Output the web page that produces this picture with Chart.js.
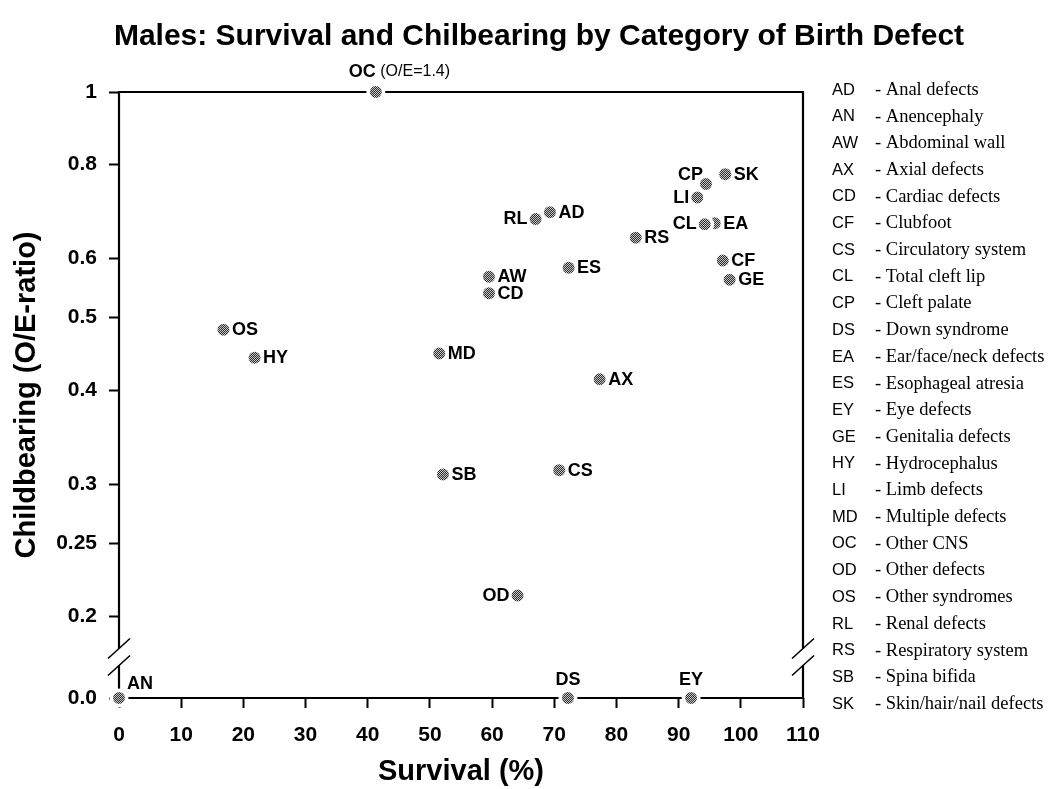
<!DOCTYPE html>
<html>
<head>
<meta charset="utf-8">
<script src="https://cdn.jsdelivr.net/npm/chart.js@4.4.1/dist/chart.umd.min.js"></script>
<style>
  html, body { margin: 0; padding: 0; background: #fff; }
</style>
</head>
<body>
<canvas id="defects-chart" width="1058" height="789"></canvas>
<script>
 /*-------------------
 Data
 -------------------*/
 const codes = ['AD', 'AN', 'AW', 'AX', 'CD', 'CF', 'CS', 'CL', 'CP', 'DS', 'EA', 'ES',
   'EY', 'GE', 'HY', 'LI', 'MD', 'OC', 'OD', 'OS', 'RL', 'RS', 'SB', 'SK'];
 const names = ['Anal defects', 'Anencephaly', 'Abdominal wall', 'Axial defects', 'Cardiac defects',
   'Clubfoot', 'Circulatory system', 'Total cleft lip', 'Cleft palate', 'Down syndrome',
   'Ear/face/neck defects', 'Esophageal atresia', 'Eye defects', 'Genitalia defects',
   'Hydrocephalus', 'Limb defects', 'Multiple defects', 'Other CNS', 'Other defects',
   'Other syndromes', 'Renal defects', 'Respiratory system', 'Spina bifida', 'Skin/hair/nail defects'];
 // Survival (%)
 const survival = [69.3, 0, 59.5, 77.3, 59.5, 97.1, 70.8, 94.2, 94.4, 72.2, 95.8, 72.3,
   92.0, 98.2, 21.8, 93.0, 51.5, 41.3, 64.1, 16.8, 67.0, 83.1, 52.1, 97.5];
 // Childbearing, O/E ratio
 const oeRatio = [0.691, 0, 0.567, 0.414, 0.539, 0.596, 0.313, 0.666, 0.754, 0, 0.668, 0.583,
   0, 0.562, 0.442, 0.723, 0.448, 1.4, 0.213, 0.482, 0.677, 0.639, 0.309, 0.777];

 const xTicks = [0, 10, 20, 30, 40, 50, 60, 70, 80, 90, 100, 110];
 const yTicks = [1, 0.8, 0.6, 0.5, 0.4, 0.3, 0.25, 0.2, 0];
 const yTickLabels = ['1', '0.8', '0.6', '0.5', '0.4', '0.3', '0.25', '0.2', '0.0'];

 // where each label sits next to its dot
 const labelSide = ['right', 'aboveright', 'right', 'right', 'right', 'right', 'right', 'left',
   'aboveleft', 'above', 'right', 'right', 'above', 'right', 'right', 'left', 'right', 'top',
   'left', 'right', 'left', 'right', 'right', 'right'];

 // log axis runs 0.2..1, zero sits below the axis break
 const Y_MAX = 1;
 const ZERO_POS = 0.1555;
 const plotY = v => v === 0 ? ZERO_POS : Math.min(v, Y_MAX);

 const SANS = '"Liberation Sans", Arial, Helvetica, sans-serif';
 const SERIF = '"Liberation Serif", "Times New Roman", serif';

 // --------- Dot fill -----------
 function dotPattern() {
   const c = document.createElement('canvas');
   c.width = 2; c.height = 2;
   const g = c.getContext('2d');
   g.fillStyle = '#303030';
   g.fillRect(0, 0, 2, 2);
   g.fillStyle = '#c4c4c4';
   g.fillRect(0, 0, 1, 1);
   g.fillRect(1, 1, 1, 1);
   return g.createPattern(c, 'repeat');
 }

 // later entries are drawn on top, so go backwards (CL covers EA like the print)
 const drawOrder = codes.map((c, i) => i).reverse();

 /*-------------------
 Plugins
 -------------------*/
 const framePlugin = {
   id: 'frame',
   beforeDatasetsDraw(chart) {
     const { ctx, chartArea: { left, right, top, bottom } } = chart;
     const y = chart.scales.y;
     const brk = (y.getPixelForValue(0.2) + y.getPixelForValue(ZERO_POS)) / 2;
     const gap = 8.5;
     ctx.save();
     ctx.strokeStyle = '#000';
     ctx.lineWidth = 2.2;
     ctx.beginPath();
     ctx.moveTo(left - 1, top); ctx.lineTo(right + 1, top);
     ctx.moveTo(left - 1, bottom); ctx.lineTo(right + 1, bottom);
     [left, right].forEach(x => {
       ctx.moveTo(x, top); ctx.lineTo(x, brk - gap);
       ctx.moveTo(x, brk + gap); ctx.lineTo(x, bottom);
     });
     ctx.stroke();
     // break marks
     ctx.lineWidth = 1.6;
     ctx.beginPath();
     [left, right].forEach(x => {
       [-gap, gap].forEach(d => {
         ctx.moveTo(x - 11, brk + d + 10);
         ctx.lineTo(x + 11, brk + d - 10);
       });
     });
     ctx.stroke();
     ctx.restore();
   }
 };

 const labelPlugin = {
   id: 'dotLabels',
   afterDatasetsDraw(chart) {
     const ctx = chart.ctx;
     const pts = chart.getDatasetMeta(0).data;
     ctx.save();
     ctx.fillStyle = '#000';
     ctx.textBaseline = 'middle';
     const bold = 'bold 18px ' + SANS;
     pts.forEach((p, j) => {
       const i = drawOrder[j];
       const txt = codes[i];
       ctx.font = bold;
       switch (labelSide[i]) {
         case 'left':
           ctx.textAlign = 'right';
           ctx.fillText(txt, p.x - 8, p.y);
           break;
         case 'above':
           ctx.textAlign = 'center';
           ctx.fillText(txt, p.x, p.y - 18);
           break;
         case 'aboveleft':
           ctx.textAlign = 'right';
           ctx.fillText(txt, p.x - 3, p.y - 9);
           break;
         case 'aboveright':
           ctx.textAlign = 'left';
           ctx.fillText(txt, p.x + 8, p.y - 14);
           break;
         case 'top': {
           ctx.textAlign = 'left';
           const x0 = p.x - 27;
           ctx.fillText(txt, x0, p.y - 20);
           const w = ctx.measureText(txt).width;
           ctx.font = '16px ' + SANS;
           ctx.fillText(' (O/E=' + oeRatio[i] + ')', x0 + w, p.y - 20);
           break;
         }
         default:
           ctx.textAlign = 'left';
           ctx.fillText(txt, p.x + 8.5, p.y + 0.5);
       }
     });
     ctx.restore();
   }
 };

 const sidePlugin = {
   id: 'sideText',
   afterDraw(chart) {
     const ctx = chart.ctx;
     ctx.save();
     ctx.fillStyle = '#000';
     ctx.textBaseline = 'middle';
     ctx.textAlign = 'center';
     ctx.font = 'bold 30px ' + SANS;
     ctx.fillText('Males: Survival and Chilbearing by Category of Birth Defect', 539, 37);
     // key of abbreviations
     ctx.textAlign = 'left';
     codes.forEach((c, i) => {
       const y = 90 + i * 26.7;
       ctx.font = '16.5px ' + SANS;
       ctx.fillText(c, 832, y);
       ctx.font = '18.5px ' + SERIF;
       ctx.fillText('- ' + names[i], 875, y);
     });
     ctx.restore();
   }
 };

 /*-------------------
 Scatter Chart
 -------------------*/
 const defectsCanvas = document.getElementById('defects-chart');

 const defectsData = {
   datasets: [{
     label: 'Birth defects',
     data: drawOrder.map(i => ({ x: survival[i], y: plotY(oeRatio[i]) })),
     clip: false,
     pointRadius: 7.75,
     pointHoverRadius: 7.75,
     pointBackgroundColor: dotPattern(),
     pointBorderColor: '#fff',
     pointBorderWidth: 3.5,
     showLine: false
   }]
 };

 const tickFont = { family: SANS, size: 21, weight: 'bold' };
 const titleFont = { family: SANS, size: 29, weight: 'bold' };

 const defectsOptions = {
   responsive: false,
   animation: false,
   layout: { padding: { top: 92, right: 255, left: 0, bottom: 0 } },
   scales: {
     x: {
       type: 'linear',
       min: 0,
       max: 110,
       afterFit: scale => { scale.height = 91; },
       afterBuildTicks: scale => { scale.ticks = xTicks.map(v => ({ value: v })); },
       border: { display: false },
       grid: { drawOnChartArea: false, drawTicks: true, tickLength: 10, tickWidth: 2, tickColor: '#000' },
       ticks: { color: '#000', font: tickFont, padding: 15, maxRotation: 0 },
       title: { display: true, text: 'Survival (%)', color: '#000', font: titleFont, padding: { top: 0, bottom: 0 } }
     },
     y: {
       type: 'logarithmic',
       min: ZERO_POS,
       max: Y_MAX,
       afterFit: scale => { scale.width = 119; },
       afterBuildTicks: scale => { scale.ticks = yTicks.map(v => ({ value: plotY(v) })); },
       border: { display: false },
       grid: { drawOnChartArea: false, drawTicks: true, tickLength: 10, tickWidth: 2, tickColor: '#000' },
       ticks: {
         color: '#000',
         font: tickFont,
         padding: 12,
         callback: (value, index) => yTickLabels[index]
       },
       title: { display: true, text: 'Childbearing (O/E-ratio)', color: '#000', font: titleFont, padding: { top: 10, bottom: 0 } }
     }
   },
   plugins: {
     legend: { display: false },
     tooltip: { enabled: false },
     title: { display: false }
   }
 };

 let defectsChart = new Chart(defectsCanvas, {
   type: 'scatter',
   data: defectsData,
   options: defectsOptions,
   plugins: [framePlugin, labelPlugin, sidePlugin]
 });
</script>
</body>
</html>
